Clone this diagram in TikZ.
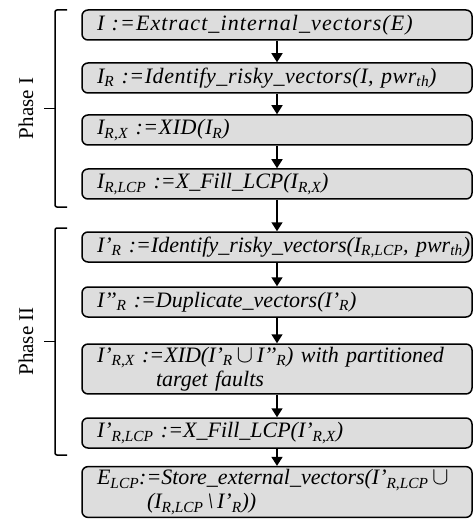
\documentclass[tikz,border=0pt]{standalone}
\usepackage{fontspec}
\setmainfont{Liberation Serif}
\usetikzlibrary{arrows.meta}
\definecolor{boxgray}{RGB}{221,221,221}
\newcommand{\sbs}[1]{\textsubscript{#1}}
\newcommand{\cupsym}{\,{\fontsize{24}{24}\selectfont\ensuremath{\cup}}\,}
\newcommand{\spaced}[1]{\addfontfeature{LetterSpace=#1}}

\tikzset{
  stepbox/.style={draw=black, line width=1.5pt, fill=boxgray, rounded corners=6pt,
    text width=372pt, inner xsep=9pt, inner ysep=4pt, minimum height=30pt,
    align=left, font=\fontsize{22}{24}\selectfont\itshape,
    execute at begin node=\hspace*{6pt}},
  flow/.style={line width=1.5pt, -{Triangle[width=11pt,length=9pt]}},
  brace/.style={line width=1.5pt, rounded corners=2pt},
  phase/.style={rotate=90, font=\fontsize{21}{21}\selectfont}
}

\begin{document}
\begin{tikzpicture}[x=1pt,y=1pt]
\useasboundingbox (0,0) rectangle (473,-521);

% phase I
\node[stepbox] (b1) at (277,-25)  {\spaced{5}\mbox{I :=Extract\_internal\_vectors(E)}};
\node[stepbox] (b2) at (277,-78)  {\spaced{2.5}\mbox{I\sbs{R} :=Identify\_risky\_vectors(I, pwr\sbs{th})}};
\node[stepbox] (b3) at (277,-130) {\spaced{2.5}\mbox{I\sbs{R,X} :=XID(I\sbs{R})}};
\node[stepbox] (b4) at (277,-184) {\mbox{I\sbs{R,LCP} :=X\_Fill\_LCP(I\sbs{R,X})}};

% phase II
\node[stepbox] (b5) at (277,-247) {\mbox{I’\sbs{R} :=Identify\_risky\_vectors(I\sbs{R,LCP}, pwr\sbs{th})}};
\node[stepbox] (b6) at (277,-302) {\mbox{I’’\sbs{R} :=Duplicate\_vectors(I’\sbs{R})}};
\node[stepbox, inner ysep=3pt] (b7) at (277,-369)
  {\mbox{I’\sbs{R,X} :=XID(I’\sbs{R}\cupsym I’’\sbs{R}) with partitioned}\\
   \hspace*{65pt}target faults};
\node[stepbox] (b8) at (277,-433) {\mbox{I’\sbs{R,LCP} :=X\_Fill\_LCP(I’\sbs{R,X})}};

% final result
\node[stepbox, inner ysep=3pt] (b9) at (277,-492)
  {\mbox{E\sbs{LCP}:=Store\_external\_vectors(I’\sbs{R,LCP}\cupsym}\\
   \hspace*{56pt}\mbox{(I\sbs{R,LCP}\,\textbackslash\,I’\sbs{R}))}};

\foreach \a/\b in {b1/b2,b2/b3,b3/b4,b4/b5,b5/b6,b6/b7,b7/b8,b8/b9}
  \draw[flow] (\a.south) -- (\b.north);

% brackets grouping the phases
\coordinate (p1t) at (67,-10);
\coordinate (p1b) at (67,-207);
\coordinate (p1m) at (44,-108.5);
\draw[brace] (p1t) -- (55,-10) -- (55,-207) -- (p1b);
\draw[brace] (p1m) -- (55,-108.5);
\node[phase] (ph1) at (26,-108.5) {Phase I};

\coordinate (p2t) at (67,-228);
\coordinate (p2b) at (67,-455);
\coordinate (p2m) at (44,-341.5);
\draw[brace] (p2t) -- (55,-228) -- (55,-455) -- (p2b);
\draw[brace] (p2m) -- (55,-341.5);
\node[phase] (ph2) at (26,-341.5) {Phase II};
\end{tikzpicture}
\end{document}
